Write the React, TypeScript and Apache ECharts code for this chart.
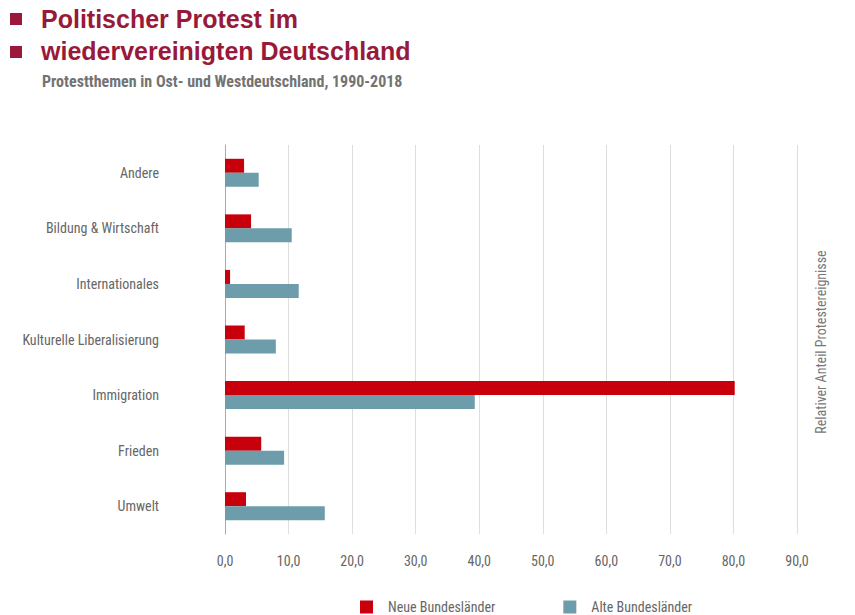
import React, { useEffect, useRef } from "react";
import * as echarts from "echarts";

const categories = [
  "Andere",
  "Bildung & Wirtschaft",
  "Internationales",
  "Kulturelle Liberalisierung",
  "Immigration",
  "Frieden",
  "Umwelt",
];
const neueBundeslaender = [3.0, 4.1, 0.8, 3.1, 80.2, 5.7, 3.3];
const alteBundeslaender = [5.3, 10.5, 11.6, 8.0, 39.3, 9.3, 15.7];
const seriesNames = ["Neue Bundesländer", "Alte Bundesländer"];

const COND = '"Liberation Sans Narrow", "Roboto Condensed", Roboto, sans-serif';

export default function App() {
  const ref = useRef<HTMLDivElement>(null);
  useEffect(() => {
    if (!ref.current) return;
    const chart = echarts.init(ref.current, undefined, { renderer: "svg" });
    chart.setOption({
      animation: false,
      backgroundColor: "#ffffff",
      graphic: [
        { type: "rect", left: 10, top: 13, shape: { width: 12, height: 12 }, style: { fill: "#98193a" } },
        { type: "rect", left: 10, top: 46, shape: { width: 12, height: 12 }, style: { fill: "#98193a" } },
        {
          type: "text",
          left: 41,
          top: 6,
          style: { text: "Politischer Protest im", fill: "#98193a", font: 'bold 25px "Liberation Sans", Arial, sans-serif' },
        },
        {
          type: "text",
          left: 41,
          top: 38,
          style: { text: "wiedervereinigten Deutschland", fill: "#98193a", font: 'bold 25px "Liberation Sans", Arial, sans-serif' },
        },
        {
          type: "text",
          left: 42,
          top: 73,
          style: { text: "Protestthemen in Ost- und Westdeutschland, 1990-2018", fill: "#737373", font: "bold 16px " + COND },
        },
        {
          type: "text",
          x: 821,
          y: 342,
          rotation: Math.PI / 2,
          style: {
            text: "Relativer Anteil Protestereignisse",
            fill: "#777777",
            font: "14px " + COND,
            align: "center",
            verticalAlign: "middle",
          },
        },
      ],
      legend: {
        left: 355,
        top: 595,
        itemWidth: 13,
        itemHeight: 13,
        itemGap: 68,
        icon: "rect",
        textStyle: { color: "#666666", fontSize: 14, fontFamily: COND, padding: [0, 0, 0, 10] },
        data: seriesNames,
      },
      grid: { left: 225, right: 58, top: 145, bottom: 81, containLabel: false },
      xAxis: {
        type: "value",
        min: 0,
        max: 90,
        interval: 10,
        axisLine: { show: false },
        axisTick: { show: false },
        splitLine: { show: true, lineStyle: { color: "#dedede", width: 1 } },
        axisLabel: {
          margin: 20,
          color: "#666666",
          fontSize: 14,
          fontFamily: COND,
          formatter: (v: number) => v.toFixed(1).replace(".", ","),
        },
      },
      yAxis: {
        type: "category",
        inverse: true,
        data: categories,
        axisLine: { show: true, lineStyle: { color: "#aaaaaa", width: 1 } },
        axisTick: { show: false },
        axisLabel: { margin: 66, color: "#666666", fontSize: 14, fontFamily: COND },
      },
      series: [
        {
          name: seriesNames[0],
          type: "bar",
          data: neueBundeslaender,
          barWidth: 14,
          barGap: "0%",
          itemStyle: { color: "#c8000b" },
        },
        {
          name: seriesNames[1],
          type: "bar",
          data: alteBundeslaender,
          barWidth: 14,
          barGap: "0%",
          itemStyle: { color: "#6d9cab" },
        },
      ],
    });
    return () => chart.dispose();
  }, []);
  return <div ref={ref} style={{ width: 855, height: 615, position: "absolute", left: 0, top: 0 }} />;
}
